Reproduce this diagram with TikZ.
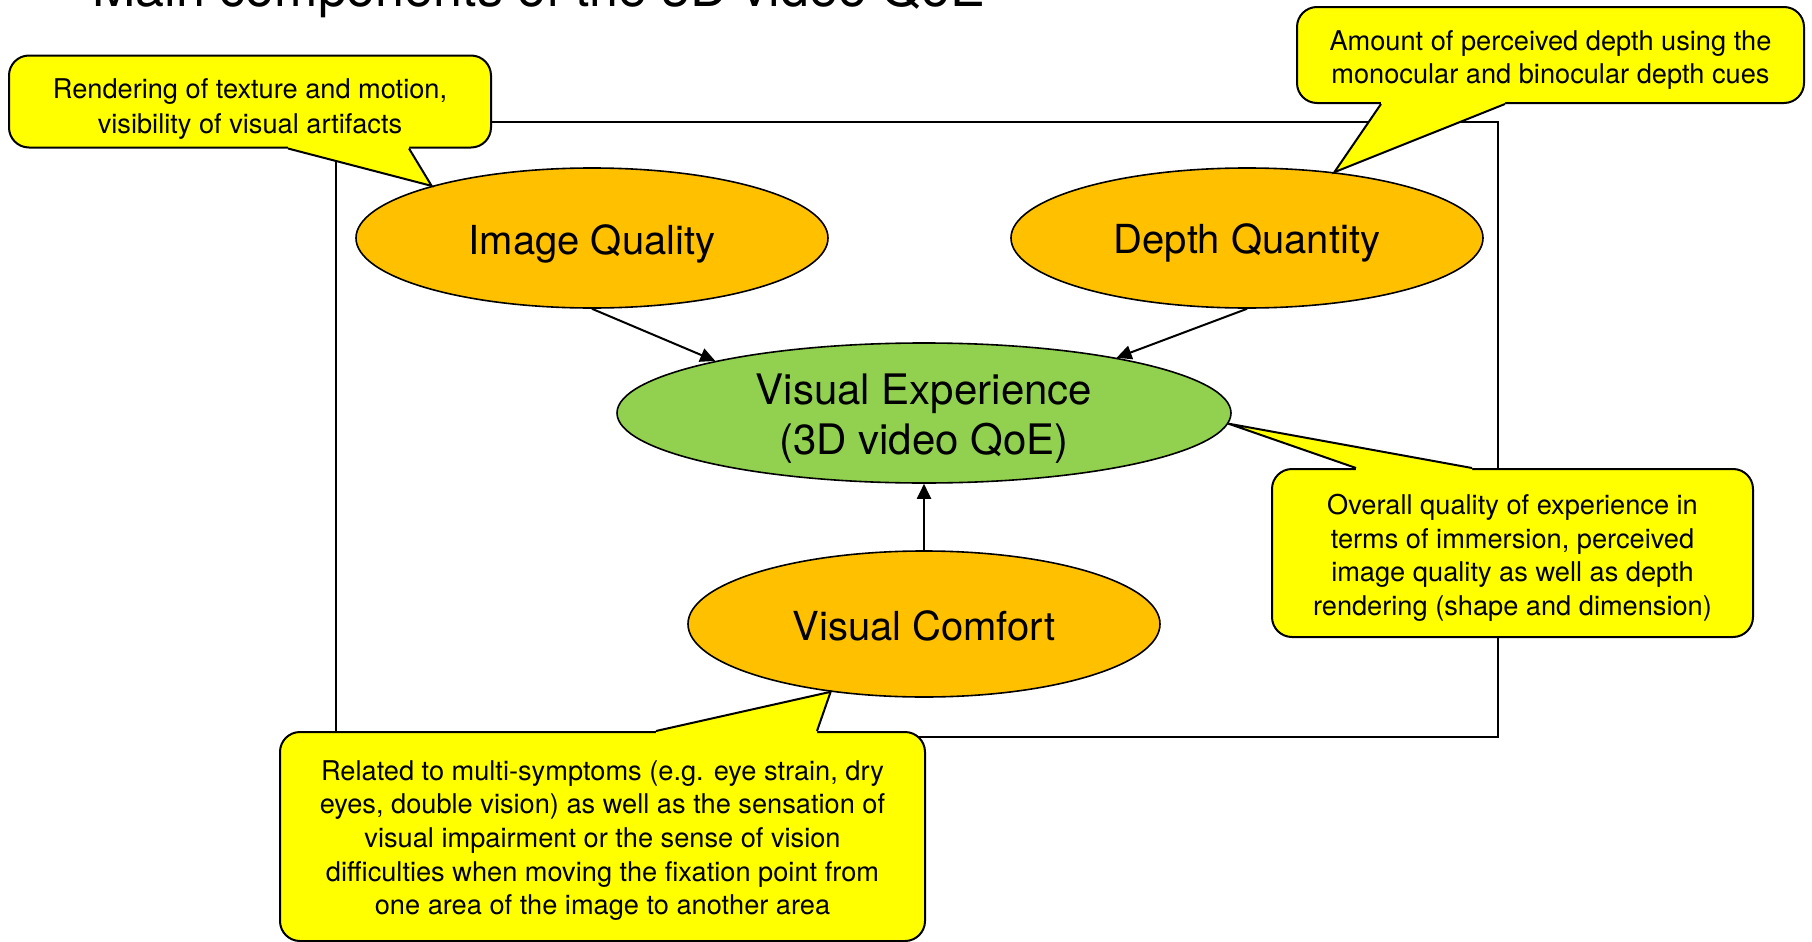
\documentclass[tikz,border=0pt]{standalone}
\usepackage{fontspec}
\setmainfont{TeX Gyre Heros}
\usetikzlibrary{calc,arrows.meta,shapes.geometric}
\definecolor{noteyellow}{HTML}{FFFF00}
\definecolor{factororange}{HTML}{FFC000}
\definecolor{coregreen}{HTML}{92D050}

\begin{document}
\begin{tikzpicture}[x=0.5pt,y=-0.5pt,
  factor/.style={ellipse, draw=black, line width=0.8pt, fill=factororange,
    minimum width=236pt, minimum height=70pt, inner sep=0pt},
  core/.style={ellipse, draw=black, line width=0.8pt, fill=coregreen,
    minimum width=307pt, minimum height=70pt, inner sep=0pt},
  note/.style={rectangle, rounded corners=10pt, draw=black, line width=1pt,
    fill=noteyellow, inner sep=0pt},
  factortext/.style={inner sep=0pt, font=\fontsize{20}{24}\selectfont},
  coretext/.style={inner sep=0pt, align=center, font=\fontsize{21}{25}\selectfont},
  notetext/.style={inner sep=0pt, align=center, font=\fontsize{13.6}{16.8}\selectfont},
  framebox/.style={rectangle, draw=black, line width=0.8pt, inner sep=0pt},
  link/.style={line width=1pt, -{Triangle[length=7.5pt,width=7pt]}},
  notetail/.style={line width=1pt, line join=miter}
]
\useasboundingbox (0,0) rectangle (1812,942);
\clip (0,0) rectangle (1812,942);

% heading
\node[anchor=base west, inner sep=0pt, font=\fontsize{26}{30}\selectfont]
  (title) at (92,6) {Main components of the 3D video QoE};

% surrounding frame
\node[framebox, minimum width=581pt, minimum height=307.5pt] (frame) at (917,429.5) {};

% factors and the overall experience
\node[factor, label={[factortext, yshift=-2.9pt]center:Image Quality}] (iq) at (592,238) {};
\node[factor, label={[factortext, yshift=-2.3pt]center:Depth Quantity}] (dq) at (1247,238) {};
\node[core, label={[coretext, yshift=-2.9pt]center:Visual Experience\\(3D video QoE)}] (ve) at (924,413) {};
\node[factor, minimum height=73pt, label={[factortext, yshift=-1.2pt]center:Visual Comfort}] (vc) at (924,624) {};

\draw[link] (iq.south) -- (ve.166);
\draw[link] (dq.south) -- (ve.16);
\draw[link] (vc.north) -- (ve.south);

% annotation boxes
\node[note, minimum width=241pt, minimum height=46pt,
  label={[notetext, font=\fontsize{13.6}{17.5}\selectfont, yshift=-4pt]center:Rendering of texture and motion,\\visibility of visual artifacts}]
  (c1) at (250,101.5) {};
\node[note, minimum width=253.5pt, minimum height=48pt,
  label={[notetext, yshift=-2.5pt]center:Amount of perceived depth using the\\monocular and binocular depth cues}]
  (c2) at (1550.5,55) {};
\node[note, minimum width=240.5pt, minimum height=84pt,
  label={[notetext, yshift=-2.3pt]center:Overall quality of experience in\\terms of immersion, perceived\\image quality as well as depth\\rendering (shape and dimension)}]
  (c3) at (1512.5,553) {};
\node[note, minimum width=322.5pt, minimum height=104.5pt,
  label={[notetext, yshift=-2pt]center:Related to multi-symptoms (e.g. eye strain, dry\\eyes, double vision) as well as the sensation of\\visual impairment or the sense of vision\\difficulties when moving the fixation point from\\one area of the image to another area}]
  (c4) at (602.5,836.5) {};

% pointers of the annotation boxes
\fill[noteyellow] ($(c1.south west)+(280,-4)$) -- ($(c1.south west)+(280,0)$) -- (iq.162)
  -- ($(c1.south west)+(401,0)$) -- ($(c1.south west)+(401,-4)$) -- cycle;
\draw[notetail] ($(c1.south west)+(280,0)$) -- (iq.162) -- ($(c1.south west)+(401,0)$);

\fill[noteyellow] ($(c2.south west)+(85,-4)$) -- ($(c2.south west)+(85,0)$) -- (dq.37)
  -- ($(c2.south west)+(209,0)$) -- ($(c2.south west)+(209,-4)$) -- cycle;
\draw[notetail] ($(c2.south west)+(85,0)$) -- (dq.37) -- ($(c2.south west)+(209,0)$);

\fill[noteyellow] ($(c3.north west)+(85,4)$) -- ($(c3.north west)+(85,0)$) -- (ve.-2)
  -- ($(c3.north west)+(201,0)$) -- ($(c3.north west)+(201,4)$) -- cycle;
\draw[notetail] ($(c3.north west)+(85,0)$) -- (ve.-2) -- ($(c3.north west)+(201,0)$);

\fill[noteyellow] ($(c4.north west)+(377,4)$) -- ($(c4.north west)+(377,0)$) -- (vc.-144)
  -- ($(c4.north west)+(538,0)$) -- ($(c4.north west)+(538,4)$) -- cycle;
\draw[notetail] ($(c4.north west)+(377,0)$) -- (vc.-144) -- ($(c4.north west)+(538,0)$);
\end{tikzpicture}
\end{document}
